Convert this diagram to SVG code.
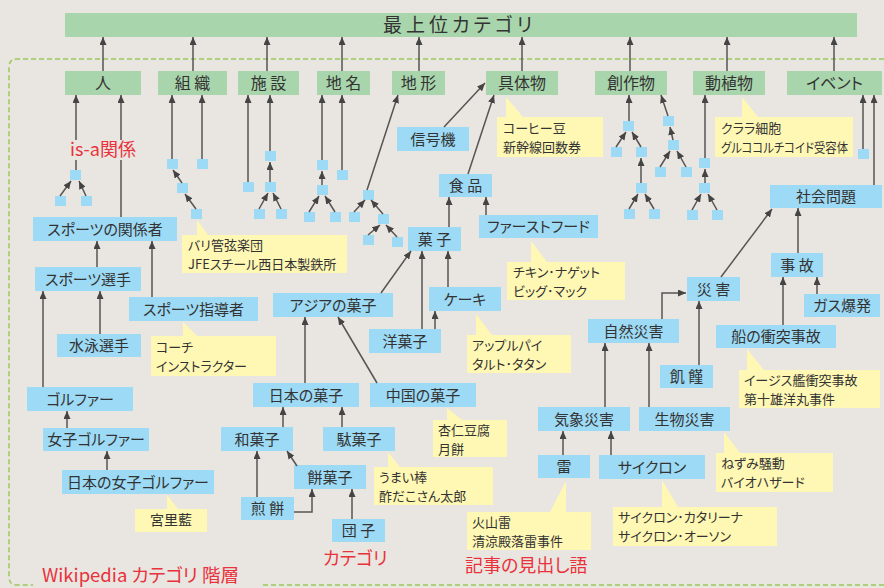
<svg xmlns="http://www.w3.org/2000/svg" width="884" height="588" viewBox="0 0 884 588">
<defs>
<marker id="ah" markerUnits="userSpaceOnUse" markerWidth="8" markerHeight="7" refX="8" refY="3.5" orient="auto">
<path d="M0,0 L8,3.5 L0,7 z" fill="#444"/>
</marker>
<style>
text{font-family:"Noto Sans CJK JP","Noto Sans",sans-serif;fill:#333;font-feature-settings:"palt" 1}
.g{fill:#A8D5AB}
.b{fill:#9DDAF5}
.y{fill:#FFF8B4}
.t0{font-size:19px;letter-spacing:4px}
.t1{font-size:16px;text-anchor:middle}
.t2{font-size:15px;text-anchor:middle}
.t3{font-size:13px}
.red{fill:#E8323C;font-size:18px}
.c line,.c polyline{stroke:#555;stroke-width:1.5;fill:none;marker-end:url(#ah)}
.c .n{marker-end:none}
.d{stroke:#9CC95A;stroke-width:1.5;stroke-dasharray:5 3;fill:none}
</style>
</defs>
<rect width="884" height="588" fill="#E9E5E0"/>
<path class="d" d="M884,59 H17 Q9,59 9,67 V577 Q9,585 17,585 H33 M263,585 H884"/>

<g id="top"><rect class="g" x="65" y="13" width="792" height="24"/><text class="t0" x="383" y="32">最上位カテゴリ</text></g>

<g id="hito"><rect class="g" x="65" y="71" width="76" height="24"/><text class="t1" x="103" y="89">人</text></g>
<g id="soshiki"><rect class="g" x="158" y="71" width="69" height="24"/><text class="t1" x="192.5" y="89">組 織</text></g>
<g id="shisetsu"><rect class="g" x="238" y="71" width="61" height="24"/><text class="t1" x="268.5" y="89">施 設</text></g>
<g id="chimei"><rect class="g" x="317" y="71" width="53" height="24"/><text class="t1" x="343.5" y="89">地 名</text></g>
<g id="chikei"><rect class="g" x="392" y="71" width="53" height="24"/><text class="t1" x="418.5" y="89">地 形</text></g>
<g id="gutaibutsu"><rect class="g" x="486" y="71" width="72" height="24"/><text class="t1" x="522" y="89">具体物</text></g>
<g id="sosakubutsu"><rect class="g" x="595" y="71" width="72" height="24"/><text class="t1" x="631" y="89">創作物</text></g>
<g id="doshokubutsu"><rect class="g" x="693" y="71" width="72" height="24"/><text class="t1" x="729" y="89">動植物</text></g>
<g id="event"><rect class="g" x="787" y="71" width="95" height="24"/><text class="t1" x="834.5" y="89">イベント</text></g>

<g id="sports-kankeisha"><rect class="b" x="33" y="217" width="144" height="24"/><text class="t2" x="105" y="234.5">スポーツの関係者</text></g>
<g id="sports-senshu"><rect class="b" x="35" y="267" width="106" height="24"/><text class="t2" x="88" y="284.5">スポーツ選手</text></g>
<g id="sports-shidosha"><rect class="b" x="129" y="297" width="129" height="24"/><text class="t2" x="193.5" y="314.5">スポーツ指導者</text></g>
<g id="suiei"><rect class="b" x="57" y="334" width="84" height="23"/><text class="t2" x="99" y="351">水泳選手</text></g>
<g id="golfer"><rect class="b" x="27" y="387" width="106" height="24"/><text class="t2" x="80" y="404.5">ゴルファー</text></g>
<g id="joshi-golfer"><rect class="b" x="43" y="428" width="106" height="23"/><text class="t2" x="96" y="445">女子ゴルファー</text></g>
<g id="nihon-joshi-golfer"><rect class="b" x="62" y="470" width="152" height="24"/><text class="t2" x="138" y="487.5">日本の女子ゴルファー</text></g>
<g id="shingoki"><rect class="b" x="397" y="127" width="72" height="24"/><text class="t2" x="433" y="144.5">信号機</text></g>
<g id="shokuhin"><rect class="b" x="439" y="174" width="53" height="23"/><text class="t2" x="465.5" y="191">食 品</text></g>
<g id="kashi"><rect class="b" x="408" y="227" width="53" height="24"/><text class="t2" x="434.5" y="244.5">菓 子</text></g>
<g id="fastfood"><rect class="b" x="479" y="215" width="119" height="23"/><text class="t2" x="538.5" y="232">ファーストフード</text></g>
<g id="cake"><rect class="b" x="429" y="287" width="72" height="24"/><text class="t2" x="465" y="304.5">ケーキ</text></g>
<g id="yogashi"><rect class="b" x="369" y="329" width="72" height="24"/><text class="t2" x="405" y="346.5">洋菓子</text></g>
<g id="asia-kashi"><rect class="b" x="273" y="293" width="120" height="24"/><text class="t2" x="333" y="310.5">アジアの菓子</text></g>
<g id="nihon-kashi"><rect class="b" x="253" y="383" width="106" height="24"/><text class="t2" x="306" y="400.5">日本の菓子</text></g>
<g id="chugoku-kashi"><rect class="b" x="370" y="383" width="106" height="24"/><text class="t2" x="423" y="400.5">中国の菓子</text></g>
<g id="wagashi"><rect class="b" x="221" y="427" width="72" height="24"/><text class="t2" x="257" y="444.5">和菓子</text></g>
<g id="dagashi"><rect class="b" x="323" y="427" width="72" height="24"/><text class="t2" x="359" y="444.5">駄菓子</text></g>
<g id="mochigashi"><rect class="b" x="294" y="465" width="72" height="24"/><text class="t2" x="330" y="482.5">餅菓子</text></g>
<g id="senbei"><rect class="b" x="241" y="497" width="53" height="23"/><text class="t2" x="267.5" y="514">煎 餅</text></g>
<g id="dango"><rect class="b" x="332" y="519" width="53" height="23"/><text class="t2" x="358.5" y="536">団 子</text></g>
<g id="shakai-mondai"><rect class="b" x="770" y="185" width="112" height="23"/><text class="t2" x="826" y="202">社会問題</text></g>
<g id="saigai"><rect class="b" x="687" y="277" width="53" height="24"/><text class="t2" x="713.5" y="294.5">災 害</text></g>
<g id="jiko"><rect class="b" x="771" y="253" width="52" height="24"/><text class="t2" x="797" y="270.5">事 故</text></g>
<g id="gas-bakuhatsu"><rect class="b" x="804" y="294" width="76" height="23"/><text class="t2" x="842" y="311">ガス爆発</text></g>
<g id="fune-jiko"><rect class="b" x="716" y="325" width="120" height="23"/><text class="t2" x="776" y="342">船の衝突事故</text></g>
<g id="shizen-saigai"><rect class="b" x="588" y="319" width="91" height="24"/><text class="t2" x="633.5" y="336.5">自然災害</text></g>
<g id="kikin"><rect class="b" x="660" y="365" width="53" height="23"/><text class="t2" x="686.5" y="382">飢 饉</text></g>
<g id="kisho-saigai"><rect class="b" x="538" y="407" width="92" height="24"/><text class="t2" x="584" y="424.5">気象災害</text></g>
<g id="seibutsu-saigai"><rect class="b" x="639" y="407" width="91" height="24"/><text class="t2" x="684.5" y="424.5">生物災害</text></g>
<g id="kaminari"><rect class="b" x="538" y="455" width="52" height="23"/><text class="t2" x="564" y="472">雷</text></g>
<g id="cyclone"><rect class="b" x="599" y="455" width="106" height="24"/><text class="t2" x="652" y="472.5">サイクロン</text></g>

<g id="squares" class="b">
<rect id="sq1" x="70" y="170" width="11" height="10"/><rect id="sq2" x="55" y="196" width="11" height="10"/><rect id="sq3" x="81" y="196" width="11" height="10"/>
<rect id="sq4" x="167" y="159" width="11" height="10"/><rect id="sq5" x="197" y="159" width="11" height="10"/><rect id="sq6" x="177" y="183" width="11" height="10"/><rect id="sq7" x="191" y="209" width="11" height="10"/>
<rect id="sq8" x="243" y="182" width="11" height="10"/><rect id="sq9" x="265" y="151" width="11" height="10"/><rect id="sq10" x="265" y="182" width="11" height="10"/><rect id="sq11" x="254" y="209" width="11" height="10"/><rect id="sq12" x="276" y="209" width="11" height="10"/>
<rect id="sq13" x="317" y="160" width="11" height="10"/><rect id="sq14" x="337" y="170" width="11" height="10"/><rect id="sq15" x="317" y="185" width="11" height="10"/><rect id="sq16" x="304" y="212" width="11" height="10"/><rect id="sq17" x="330" y="212" width="11" height="10"/>
<rect id="sq18" x="363" y="190" width="11" height="10"/><rect id="sq19" x="349" y="212" width="11" height="10"/><rect id="sq20" x="378" y="214" width="11" height="10"/><rect id="sq21" x="363" y="235" width="11" height="10"/><rect id="sq22" x="392" y="237" width="11" height="10"/>
<rect id="sq23" x="623" y="121" width="11" height="10"/><rect id="sq24" x="611" y="147" width="11" height="10"/><rect id="sq25" x="636" y="147" width="11" height="10"/><rect id="sq26" x="636" y="183" width="11" height="10"/><rect id="sq27" x="624" y="209" width="11" height="10"/><rect id="sq28" x="649" y="209" width="11" height="10"/>
<rect id="sq29" x="663" y="116" width="11" height="10"/><rect id="sq30" x="668" y="140" width="11" height="10"/><rect id="sq31" x="655" y="167" width="11" height="10"/><rect id="sq32" x="681" y="167" width="11" height="10"/>
<rect id="sq33" x="699" y="158" width="11" height="10"/><rect id="sq34" x="699" y="183" width="11" height="10"/><rect id="sq35" x="687" y="210" width="11" height="10"/><rect id="sq36" x="712" y="210" width="11" height="10"/>
<rect id="sq37" x="858" y="149" width="11" height="10"/>
</g>

<g id="connectors" class="c">
<line x1="103" y1="71" x2="103" y2="37"/><line x1="193" y1="71" x2="193" y2="37"/><line x1="267" y1="71" x2="267" y2="37"/><line x1="342" y1="71" x2="342" y2="37"/><line x1="419" y1="71" x2="419" y2="37"/><line x1="522" y1="71" x2="522" y2="37"/><line x1="630" y1="71" x2="630" y2="37"/><line x1="727" y1="71" x2="727" y2="37"/><line x1="834" y1="71" x2="834" y2="37"/>
<line class="n" x1="76" y1="170" x2="76" y2="160"/><line x1="76" y1="140" x2="76" y2="95"/>
<line class="n" x1="121" y1="217" x2="121" y2="160"/><line x1="121" y1="140" x2="121" y2="95"/>
<line x1="60" y1="196" x2="71" y2="181"/><line x1="86" y1="196" x2="79" y2="181"/>
<line x1="172" y1="159" x2="172" y2="95"/><line x1="202" y1="159" x2="202" y2="95"/><line x1="182" y1="183" x2="173" y2="170"/><line x1="196" y1="209" x2="185" y2="194"/>
<line x1="248" y1="182" x2="248" y2="95"/><line x1="270" y1="151" x2="270" y2="95"/><line x1="270" y1="182" x2="270" y2="162"/><line x1="259" y1="209" x2="268" y2="193"/><line x1="281" y1="209" x2="273" y2="193"/>
<line x1="322" y1="160" x2="322" y2="95"/><line x1="342" y1="170" x2="342" y2="95"/><line x1="322" y1="185" x2="322" y2="171"/><line x1="309" y1="212" x2="319" y2="196"/><line x1="335" y1="212" x2="325" y2="196"/>
<line x1="367" y1="190" x2="398" y2="95"/><line x1="354" y1="212" x2="365" y2="200"/><line x1="383" y1="214" x2="371" y2="200"/><line x1="368" y1="235" x2="380" y2="225"/><line x1="397" y1="237" x2="386" y2="225"/>
<line x1="444" y1="127" x2="485" y2="83"/><line x1="468" y1="174" x2="494" y2="95"/>
<line x1="449" y1="227" x2="449" y2="197"/><line x1="486" y1="215" x2="486" y2="197"/>
<line x1="381" y1="293" x2="411" y2="251"/><line x1="422" y1="329" x2="422" y2="251"/><line x1="448" y1="287" x2="448" y2="251"/><line x1="435" y1="329" x2="435" y2="311"/>
<line x1="305" y1="383" x2="305" y2="317"/><line x1="377" y1="383" x2="338" y2="317"/>
<line x1="283" y1="427" x2="283" y2="407"/><line x1="342" y1="427" x2="342" y2="407"/>
<line x1="297" y1="466" x2="287" y2="451"/><line x1="257" y1="497" x2="257" y2="451"/>
<polyline points="294,512 312,512 312,489"/><line x1="352" y1="519" x2="352" y2="489"/>
<line x1="97" y1="267" x2="97" y2="241"/><line x1="152" y1="297" x2="152" y2="241"/><line x1="100" y1="334" x2="100" y2="291"/><line x1="43" y1="387" x2="43" y2="291"/><line x1="67" y1="428" x2="67" y2="411"/><line x1="107" y1="470" x2="107" y2="451"/>
<line x1="629" y1="121" x2="629" y2="95"/><line x1="616" y1="147" x2="626" y2="132"/><line x1="641" y1="147" x2="632" y2="132"/><line x1="641" y1="183" x2="641" y2="158"/><line x1="629" y1="209" x2="638" y2="194"/><line x1="654" y1="209" x2="645" y2="194"/>
<line x1="668" y1="116" x2="661" y2="95"/><line x1="673" y1="140" x2="670" y2="127"/><line x1="660" y1="167" x2="670" y2="151"/><line x1="686" y1="167" x2="677" y2="151"/>
<line x1="705" y1="158" x2="705" y2="95"/><line x1="705" y1="183" x2="705" y2="169"/><line x1="692" y1="210" x2="701" y2="194"/><line x1="717" y1="210" x2="708" y2="194"/>
<line x1="863" y1="149" x2="863" y2="95"/><line x1="874" y1="185" x2="874" y2="95"/>
<line x1="721" y1="277" x2="772" y2="209"/><line x1="798" y1="253" x2="798" y2="208"/><line x1="817" y1="294" x2="817" y2="277"/><line x1="783" y1="325" x2="783" y2="277"/>
<polyline points="662,319 662,293 686,293"/><line x1="699" y1="365" x2="699" y2="301"/>
<line x1="605" y1="407" x2="605" y2="343"/><line x1="649" y1="407" x2="649" y2="343"/>
<line x1="563" y1="455" x2="563" y2="431"/><line x1="611" y1="455" x2="611" y2="431"/>
</g>

<g id="callouts" class="t3">
<g id="note-soshiki"><rect class="y" x="182" y="235" width="165" height="38"/><polygon class="y" points="197,220 208,235 197,235"/><text x="188" y="250">バリ管弦楽団<tspan x="188" dy="19">JFEスチール西日本製鉄所</tspan></text></g>
<g id="note-shidosha"><rect class="y" x="151" y="336" width="125" height="40"/><polygon class="y" points="183,322 197,336 183,336"/><text x="156" y="352">コーチ<tspan x="156" dy="19">インストラクター</tspan></text></g>
<g id="note-golfer"><rect class="y" x="135" y="509" width="72" height="23"/><polygon class="y" points="167,495 178,509 167,509"/><text x="171" y="525" text-anchor="middle" font-size="14">宮里藍</text></g>
<g id="note-gutai"><rect class="y" x="497" y="117" width="106" height="40"/><polygon class="y" points="506,97 523,117 506,117"/><text x="503" y="133">コーヒー豆<tspan x="503" dy="19">新幹線回数券</tspan></text></g>
<g id="note-fastfood"><rect class="y" x="507" y="262" width="118" height="38"/><polygon class="y" points="531,241 547,262 531,262"/><text x="513" y="277">チキン･ナゲット<tspan x="513" dy="19">ビッグ･マック</tspan></text></g>
<g id="note-cake"><rect class="y" x="467" y="335" width="104" height="38"/><polygon class="y" points="476,314 492,335 476,335"/><text x="472" y="350">アップルパイ<tspan x="472" dy="19">タルト･タタン</tspan></text></g>
<g id="note-chugoku"><rect class="y" x="433" y="420" width="74" height="37"/><polygon class="y" points="447,408 462,420 447,420"/><text x="438" y="435">杏仁豆腐<tspan x="438" dy="19">月餅</tspan></text></g>
<g id="note-dagashi"><rect class="y" x="374" y="467" width="119" height="38"/><polygon class="y" points="388,452 400,467 388,467"/><text x="379" y="482">うまい棒<tspan x="379" dy="19">酢だこさん太郎</tspan></text></g>
<g id="note-kaminari"><rect class="y" x="467" y="512" width="124" height="38"/><polygon class="y" points="550,512 566,481 566,512"/><text x="472" y="527">火山雷<tspan x="472" dy="19">清涼殿落雷事件</tspan></text></g>
<g id="note-cyclone"><rect class="y" x="613" y="507" width="164" height="39"/><polygon class="y" points="662,480 678,507 662,507"/><text x="618" y="522">サイクロン･カタリーナ<tspan x="618" dy="19">サイクロン･オーソン</tspan></text></g>
<g id="note-seibutsu"><rect class="y" x="716" y="453" width="117" height="39"/><polygon class="y" points="724,432 740,453 724,453"/><text x="721" y="468">ねずみ騒動<tspan x="721" dy="19">バイオハザード</tspan></text></g>
<g id="note-doshokubutsu"><rect class="y" x="715" y="117" width="138" height="40"/><polygon class="y" points="742,97 758,117 742,117"/><text x="721" y="133">クララ細胞<tspan x="721" dy="19" textLength="127" lengthAdjust="spacingAndGlyphs">グルココルチコイド受容体</tspan></text></g>
<g id="note-fune"><rect class="y" x="739" y="370" width="141" height="38"/><polygon class="y" points="747,349 764,370 747,370"/><text x="744" y="385">イージス艦衝突事故<tspan x="744" dy="19">第十雄洋丸事件</tspan></text></g>
</g>

<g id="labels">
<text class="red" x="70" y="156">is-a関係</text>
<text class="red" x="323" y="565" font-size="17">カテゴリ</text>
<text class="red" x="465" y="572">記事の見出し語</text>
<text class="red" x="42" y="582" style="font-size:18.5px">Wikipedia カテゴリ 階層</text>
</g>
</svg>
